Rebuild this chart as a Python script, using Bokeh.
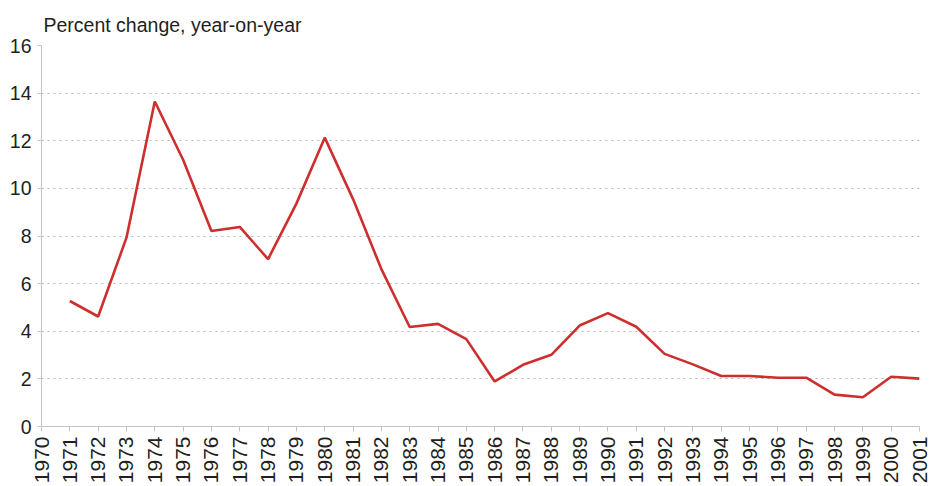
import math
from bokeh.plotting import figure
from bokeh.models import Range1d, FixedTicker
from bokeh.embed import file_html
from bokeh.resources import INLINE

years = list(range(1971, 2002))
pct_change = [5.27, 4.62, 7.93, 13.65, 11.2, 8.21, 8.38, 7.03, 9.36, 12.13,
              9.55, 6.61, 4.18, 4.31, 3.67, 1.89, 2.59, 3.01, 4.24, 4.76,
              4.19, 3.05, 2.61, 2.12, 2.12, 2.05, 2.05, 1.34, 1.23, 2.09, 2.01]
x_ticks = list(range(1970, 2002))
y_ticks = [0, 2, 4, 6, 8, 10, 12, 14, 16]
title_text = "Percent change, year-on-year"

FONT = "Liberation Sans"
TXT = "#231f20"
AX = "#c4c4c4"

p = figure(width=931, height=486, output_backend="svg", toolbar_location=None,
           x_range=Range1d(1970, 2001), y_range=Range1d(0, 16),
           min_border_left=41, min_border_right=12, min_border_top=45,
           min_border_bottom=59)
p.outline_line_color = None
p.background_fill_color = "white"

p.title.text = title_text
p.title.align = "left"
p.title.text_font = FONT
p.title.text_font_size = "19.5px"
p.title.text_font_style = "normal"
p.title.text_color = TXT
p.title.offset = 2
p.title.standoff = 20

p.line(years, pct_change, line_color="#cd2f2f", line_width=2.6)

p.xaxis.ticker = FixedTicker(ticks=x_ticks)
p.xaxis.major_label_orientation = math.pi / 2
p.xaxis.major_label_text_font = FONT
p.xaxis.major_label_text_font_size = "21px"
p.xaxis.major_label_text_color = TXT
p.xaxis.major_tick_out = 5
p.xaxis.major_tick_in = 0
p.xaxis.minor_tick_line_color = None
p.xaxis.major_label_standoff = 5
p.xaxis.axis_line_color = AX
p.xaxis.major_tick_line_color = AX

p.yaxis.ticker = FixedTicker(ticks=y_ticks)
p.yaxis.major_label_text_font = FONT
p.yaxis.major_label_text_font_size = "19.5px"
p.yaxis.major_label_text_color = TXT
p.yaxis.major_tick_out = 4
p.yaxis.major_tick_in = 0
p.yaxis.minor_tick_line_color = None
p.yaxis.major_label_standoff = 6
p.yaxis.axis_line_color = AX
p.yaxis.major_tick_line_color = AX

p.xgrid.grid_line_color = None
p.ygrid.grid_line_color = "#b5b5b5"
p.ygrid.grid_line_dash = "2 4"
p.ygrid.grid_line_width = 1

open("out.html", "w").write(file_html(p, INLINE))
